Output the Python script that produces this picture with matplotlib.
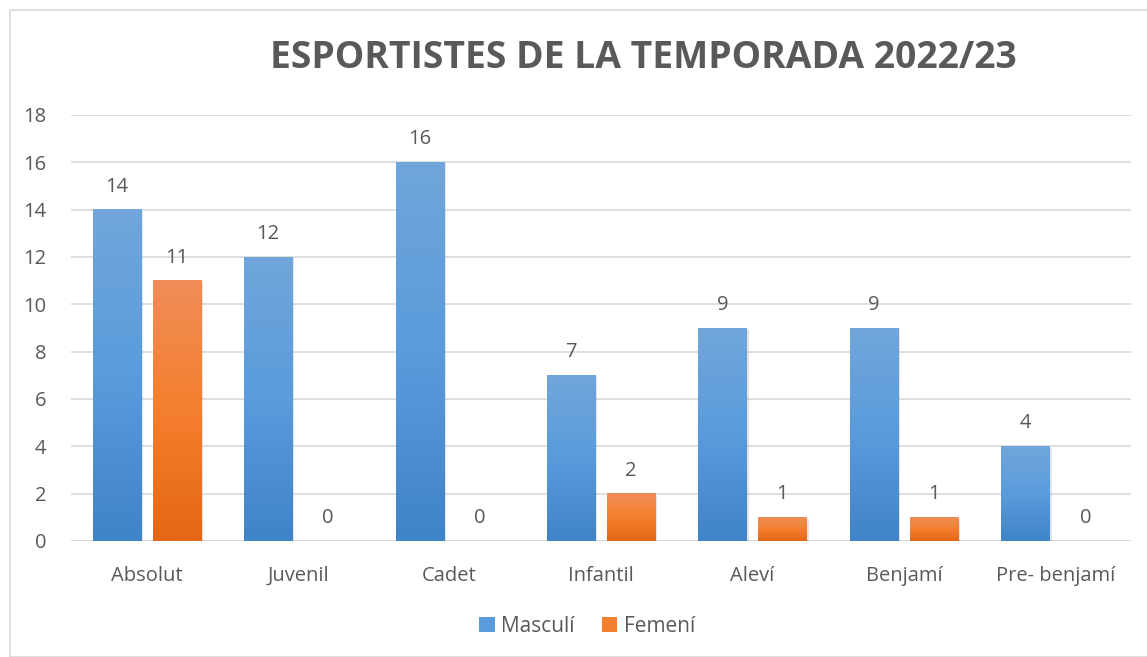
import matplotlib
matplotlib.use("Agg")
import matplotlib.pyplot as plt
import numpy as np
from matplotlib.colors import LinearSegmentedColormap
from matplotlib.patches import Rectangle, Patch

categories = ["Absolut", "Juvenil", "Cadet", "Infantil", "Aleví", "Benjamí", "Pre- benjamí"]
masculi = [14, 12, 16, 7, 9, 9, 4]
femeni = [11, 0, 0, 2, 1, 1, 0]
series_names = ["Masculí", "Femení"]
title = "ESPORTISTES DE LA TEMPORADA 2022/23"

plt.rcParams['font.family'] = ['Open Sans', 'DejaVu Sans']
TXT = "#595959"

fig = plt.figure(figsize=(11.47, 6.57), dpi=100)
ax = fig.add_axes([71/1147, 1 - 541/657, (1131-71)/1147, (541-115)/657])

x = np.arange(len(categories))
w = 0.317
off = 0.198
b1 = ax.bar(x - off, masculi, w, color="none", zorder=3)
b2 = ax.bar(x + off, femeni, w, color="none", zorder=3)

blue_cm = LinearSegmentedColormap.from_list("b", ["#3F84C7", "#5A9BDC", "#70A6DA"])
orange_cm = LinearSegmentedColormap.from_list("o", ["#E36715", "#F47F2E", "#F08D58"])
grad = np.linspace(0, 1, 256).reshape(-1, 1)
for bars, cm in ((b1, blue_cm), (b2, orange_cm)):
    for r in bars:
        h = r.get_height()
        if h <= 0:
            continue
        x0 = r.get_x()
        wd = r.get_width()
        ax.add_patch(Rectangle((x0 + 0.015, 0), wd, h - 0.05, facecolor="#000000", alpha=0.10,
                               edgecolor="none", zorder=2.5))
        ax.imshow(grad, extent=(x0, x0 + wd, 0, h), origin="lower", cmap=cm,
                  aspect="auto", zorder=3, interpolation="bilinear")

ax.set_xlim(-0.5, len(categories) - 0.5)
ax.set_ylim(0, 18)
ax.set_yticks(np.arange(0, 19, 2))
ax.set_xticks(x)
ax.set_xticklabels(categories)
ax.tick_params(axis="both", length=0, labelsize=14.5, labelcolor=TXT)
ax.tick_params(axis="x", pad=18)
ax.tick_params(axis="y", pad=18)
ax.grid(axis="y", color="#D9D9D9", linewidth=1.2, zorder=0)
ax.set_axisbelow(True)
for s in ax.spines.values():
    s.set_visible(False)
ax.axhline(0, color="#D9D9D9", linewidth=1.2, zorder=1)

for bars, vals in ((b1, masculi), (b2, femeni)):
    for r, v in zip(bars, vals):
        ax.text(r.get_x() + r.get_width() / 2, v + 0.55, str(v), ha="center", va="bottom",
                fontsize=14.5, color=TXT, zorder=5)

fig.text(643/1147, 1 - 58/657, title, ha="center", va="center", fontsize=26.8,
         fontweight="bold", color=TXT)

handles = [Patch(facecolor="#5A9BDC"), Patch(facecolor="#F47F2E")]
fig.legend(handles, series_names, loc="center", bbox_to_anchor=(587/1147, 1 - 626/657),
           ncol=2, frameon=False, fontsize=15, labelcolor=TXT, handlelength=0.75,
           handleheight=0.75, columnspacing=1.3, handletextpad=0.3)

fig.add_artist(Rectangle((10/1147, 0), 1.0, 1 - 10/657, transform=fig.transFigure,
                         facecolor="none", edgecolor="#D9D9D9", linewidth=1.2))

fig.savefig("out.png", dpi=100)
